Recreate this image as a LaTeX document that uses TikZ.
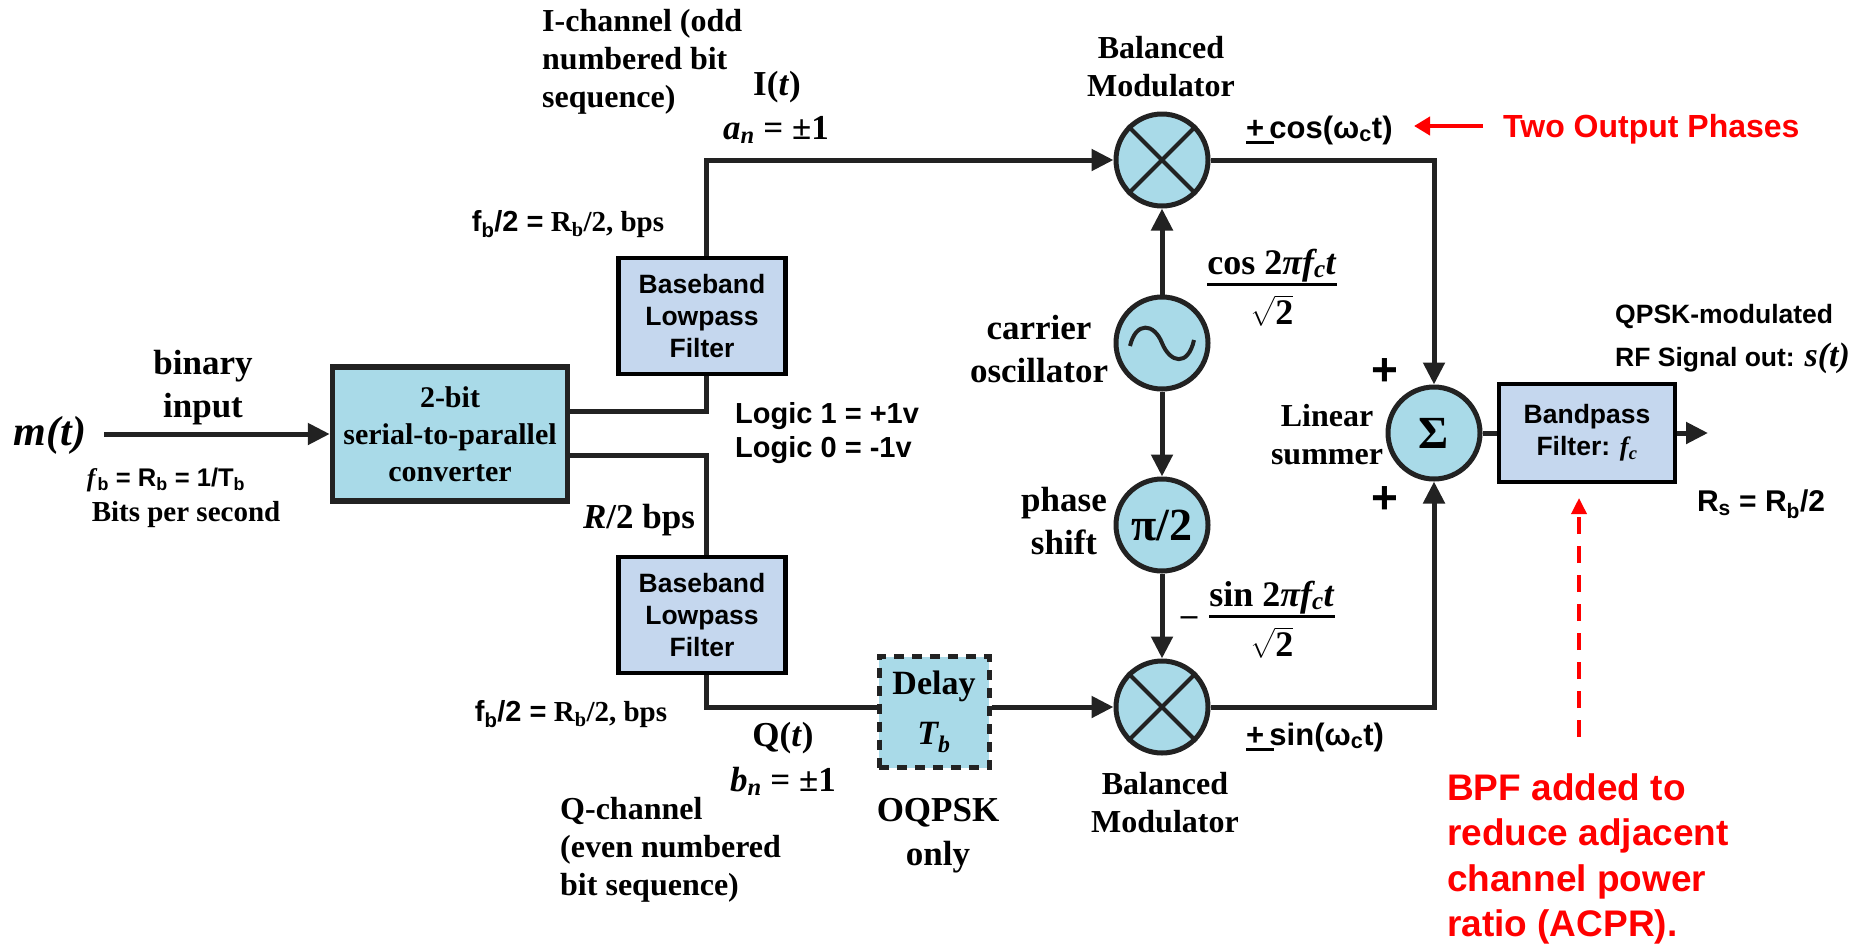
\documentclass[tikz,border=0pt]{standalone}
\usepackage{amsmath}
\usepackage{fontspec}
\setmainfont{Liberation Serif}
\setsansfont{Liberation Sans}
\usetikzlibrary{arrows.meta,calc}
\definecolor{mixblue}{HTML}{A9DAE8}
\definecolor{boxblue}{HTML}{C5D7EE}
\definecolor{inkline}{HTML}{222222}
\tikzset{
	serif/.style={font=\fontsize{32}{38}\selectfont\bfseries, align=center, inner sep=0},
	serifleft/.style={serif, align=left, anchor=west},
	serifbig/.style={serif, font=\fontsize{35}{43}\selectfont\bfseries},
	serifmid/.style={serif, font=\fontsize{29}{32}\selectfont\bfseries},
	arial/.style={font=\fontsize{26.5}{32}\selectfont\sffamily\bfseries, align=center, inner sep=0},
	arialleft/.style={arial, align=left, anchor=west},
	redtext/.style={text=red, inner sep=0, font=\fontsize{32}{38}\selectfont\sffamily\bfseries, align=left, anchor=west},
	bluebox/.style={draw=black, fill=boxblue, line width=4.5pt, inner sep=0, minimum width=167pt},
	roundblock/.style={circle, draw=inkline, fill=mixblue, line width=5pt, inner sep=0, minimum size=92pt},
	wire/.style={line width=5pt, draw=inkline},
	sigarrow/.style={wire, -{Triangle[length=22pt, width=21pt]}},
	crossline/.style={line width=4pt, draw=inkline},
	fracnode/.style={serif, anchor=base, font=\fontsize{36}{36}\selectfont\bfseries},
}
\newcommand{\subsf}[1]{\textsubscript{#1}}
\newcommand{\plusbar}{\rlap{\rule[-6pt]{28pt}{3.5pt}}+\,}
\begin{document}
\begin{tikzpicture}[x=1pt, y=-1pt]
		\useasboundingbox (0,0) rectangle (1854,943);
		\node [roundblock](modi) at (1162,160) {};
		\node [roundblock](modq) at (1162,707) {};
		\node [roundblock](osc) at (1162,343) {};
		\node [roundblock, font=\fontsize{46}{46}\selectfont\bfseries](phase) at (1162,525) {π/2};
		\node [roundblock, font=\fontsize{46}{46}\selectfont\bfseries](sum) at (1434,433) {Σ};
		\node [draw=inkline, fill=mixblue, line width=5.5pt, minimum width=235pt, minimum height=134pt, inner sep=0, serif, font=\fontsize{30}{37}\selectfont\bfseries](conv) at (450,434) {2-bit\\serial-to-parallel\\converter};
		\node [bluebox, arial, minimum height=116pt](bbi) at (702,316) {Baseband\\Lowpass\\Filter};
		\node [bluebox, arial, minimum height=116pt](bbq) at (702,615) {Baseband\\Lowpass\\Filter};
		\node [bluebox, arial, minimum width=176pt, minimum height=98pt](bpf) at (1587,433) {Bandpass\\Filter: \textit{\rmfamily f\subsf{c}}};
		\node [draw=inkline, dash pattern=on 10pt off 8pt, fill=mixblue, line width=5pt, minimum width=110pt, minimum height=111pt, serif, inner sep=0, font=\fontsize{34}{50}\selectfont\bfseries](delay) at (934,712) {\raisebox{-4pt}{Delay}\\\raisebox{-4pt}{\textit{T\subsf{b}}}};

		\coordinate (inp) at (104,434);
		\coordinate (bendi) at (706,411);
		\coordinate (bendq) at (706,455);
		\coordinate (topi) at (706,160);
		\coordinate (botq) at (706,707);
		\coordinate (out) at (1708,433);
		\coordinate (cornerup) at (1434,160);
		\coordinate (cornerdn) at (1434,707);
		\coordinate (phtail) at (1483,126);
		\coordinate (phtip) at (1414,126);
		\coordinate (bpftail) at (1579,737);
		\coordinate (bpftip) at (1579,498);

		\draw [sigarrow] (inp) -- (conv.west);
		\draw [wire] (conv.east |- bendi) -- (bendi) -- (bendi |- bbi.south);
		\draw [wire] (conv.east |- bendq) -- (bendq) -- (bendq |- bbq.north);
		\draw [sigarrow] (topi |- bbi.north) -- (topi) -- (modi.west);
		\draw [wire] (botq |- bbq.south) -- (botq) -- (botq -| delay.west);
		\draw [sigarrow] (botq -| delay.east) -- (modq.west);
		\draw [sigarrow] (osc.north) -- (modi.south);
		\draw [sigarrow] (osc.south) -- (phase.north);
		\draw [sigarrow] (phase.south) -- (modq.north);
		\draw [sigarrow] (modi.east) -- (cornerup) -- (sum.north);
		\draw [sigarrow] (modq.east) -- (cornerdn) -- (sum.south);
		\draw [wire] (sum.east) -- (bpf.west);
		\draw [sigarrow] (bpf.east) -- (out);
		\draw [crossline] (modi.north west) -- (modi.south east);
		\draw [crossline] (modi.north east) -- (modi.south west);
		\draw [crossline] (modq.north west) -- (modq.south east);
		\draw [crossline] (modq.north east) -- (modq.south west);
		\draw [crossline] ($(osc.center)+(-32,3)$) .. controls ($(osc.center)+(-26,-22)$) and ($(osc.center)+(-8,-20)$) .. (osc.center) .. controls ($(osc.center)+(8,20)$) and ($(osc.center)+(26,24)$) .. ($(osc.center)+(32,-3)$);
		\draw [red, line width=4.5pt, -{Triangle[length=16pt, width=18pt]}] (phtail) -- (phtip);
		\draw [red, line width=3.5pt, dash pattern=on 17pt off 12pt, -{Triangle[length=16pt, width=15pt]}] (bpftail) -- (bpftip);

		\node [serif, font=\fontsize{42}{42}\selectfont\bfseries\itshape](mt) at (50,435) {m(t)};
		\node [serifbig](bininp) at (203,388) {binary\\input};
		\node [arial, font=\fontsize{25.5}{32}\selectfont\sffamily\bfseries](fbrate) at (166,480) {\textit{\rmfamily f}\subsf{b} = R\subsf{b} = 1/T\subsf{b}};
		\node [serifmid](bitsec) at (186,515) {Bits per second};
		\node [serifleft](ichan) at (542,62) {I-channel (odd\\numbered bit\\sequence)};
		\node [serifbig](it) at (777,87) {I(\textit{t})};
		\node [serifbig](an) at (776,130) {\textit{a\subsf{n}} = ±1};
		\node [serifmid](fbi) at (568,224) {{\sffamily f\subsf{b}/2 =} R\subsf{b}/2, bps};
		\node [arialleft, font=\fontsize{29}{34}\selectfont\sffamily\bfseries](logic) at (735,433) {Logic 1 = +1v\\Logic 0 = -1v};
		\node [serifbig](rbps) at (639,520) {\textit{R}/2 bps};
		\node [serifmid](fbq) at (571,714) {{\sffamily f\subsf{b}/2 =} R\subsf{b}/2, bps};
		\node [serifbig](qt) at (783,738) {Q(\textit{t})};
		\node [serifbig](bn) at (783,781) {\textit{b\subsf{n}} = ±1};
		\node [serifleft](qchan) at (560,850) {Q-channel\\(even numbered\\bit sequence)};
		\node [serifbig, font=\fontsize{35}{44}\selectfont\bfseries](oqpsk) at (938,836) {OQPSK\\only};
		\node [serif](balup) at (1161,67) {Balanced\\Modulator};
		\node [serif](baldn) at (1165,803) {Balanced\\Modulator};
		\node [serifbig](carrier) at (1039,349) {carrier\\oscillator};
		\node [serifbig](shift) at (1064,521) {phase\\shift};
		\node [fracnode](cosfrac) at (1272,291) {$\genfrac{}{}{3pt}{0}{\smash{\text{cos 2\textit{πf\subsf{c}t}}}}{\sqrt{\text{2}}}$};
		\node [fracnode](sinfrac) at (1272,623) {$\genfrac{}{}{3pt}{0}{\smash{\text{sin 2\textit{πf\subsf{c}t}}}}{\sqrt{\text{2}}}$};
		\node [serif, font=\fontsize{33}{33}\selectfont\bfseries](minus) at (1189,621) {--};
		\node [arialleft, font=\fontsize{31}{32}\selectfont\sffamily\bfseries](cosout) at (1246,130) {\plusbar cos(ω\subsf{c}t)};
		\node [arialleft, font=\fontsize{31}{32}\selectfont\sffamily\bfseries](sinout) at (1246,737) {\plusbar sin(ω\subsf{c}t)};
		\node [redtext](twoph) at (1503,129) {Two Output Phases};
		\node [arial, font=\fontsize{46}{46}\selectfont\sffamily\bfseries](plusup) at (1385,372) {+};
		\node [arial, font=\fontsize{46}{46}\selectfont\sffamily\bfseries](plusdn) at (1385,500) {+};
		\node [serif](linsum) at (1327,435) {Linear\\summer};
		\node [arialleft, font=\fontsize{26.5}{43}\selectfont\sffamily\bfseries](qpsk) at (1615,339) {QPSK-modulated\\RF Signal out: {\rmfamily\itshape\fontsize{34}{43}\selectfont s(t)}};
		\node [arial, font=\fontsize{30}{32}\selectfont\sffamily\bfseries](rsrb) at (1761,504) {R\subsf{s} = R\subsf{b}/2};
		\node [redtext, font=\fontsize{37}{45.3}\selectfont\sffamily\bfseries](bpfnote) at (1447,859) {BPF added to\\reduce adjacent\\channel power\\ratio (ACPR).};
\end{tikzpicture}
\end{document}
